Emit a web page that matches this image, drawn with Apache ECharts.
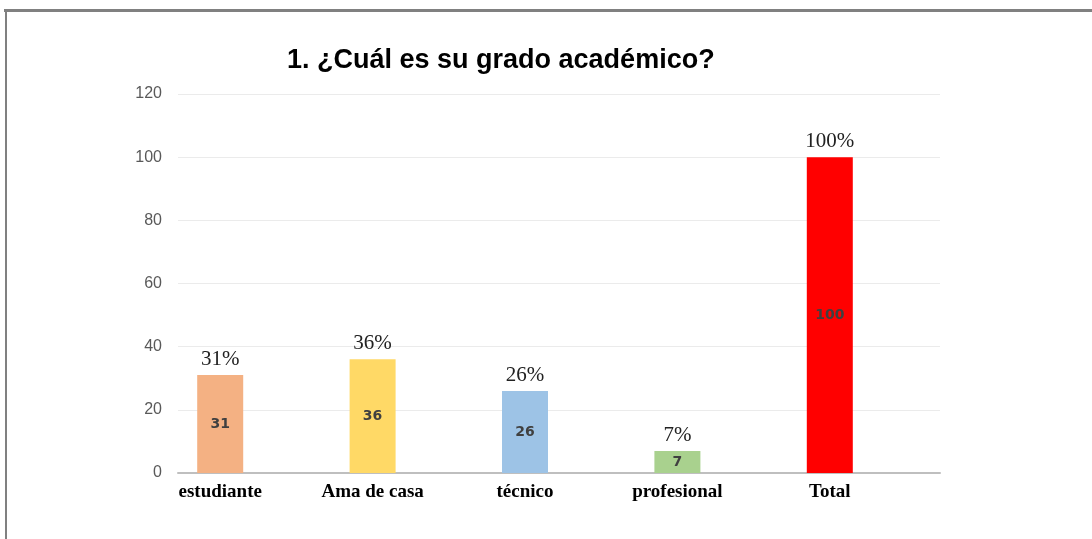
<!DOCTYPE html>
<html>
<head>
<meta charset="utf-8">
<script src="https://cdn.jsdelivr.net/npm/echarts@6/dist/echarts.min.js"></script>
<style>
  html, body { margin: 0; padding: 0; background: #fff; }
  #chart { width: 1092px; height: 539px; }
</style>
</head>
<body>
<div id="chart"></div>
<script>
// datos
const categories = ["estudiante", "Ama de casa", "técnico", "profesional", "Total"];
const values = [31, 36, 26, 7, 100];
const percentLabels = ["31%", "36%", "26%", "7%", "100%"];
const barColors = ["#F4B183", "#FFD966", "#9DC3E6", "#A9D18E", "#FF0000"];
const yTicks = { min: 0, max: 120, interval: 20 };

const chart = echarts.init(document.getElementById("chart"));

const option = {
  animation: false,
  backgroundColor: "#fff",
  title: {
    text: "1. ¿Cuál es su grado académico?",
    left: 282,
    top: 42,
    textStyle: {
      fontFamily: "Liberation Sans Narrow, Arial Narrow, Liberation Sans",
      fontWeight: "bold",
      fontSize: 27,
      color: "#000"
    }
  },
  graphic: [
    // marco gris (arriba e izquierda)
    { type: "rect", shape: { x: 4, y: 9, width: 1100, height: 3 }, style: { fill: "#808080" } },
    { type: "rect", shape: { x: 5, y: 9, width: 2, height: 540 }, style: { fill: "#808080" } }
  ],
  grid: [
    // área de trazado (líneas de cuadrícula y eje)
    { left: 178, right: 152, top: 94, bottom: 66 },
    // las barras quedan desplazadas a la izquierda en el original
    { left: 144, right: 186, top: 94, bottom: 66 }
  ],
  xAxis: [
    {
      type: "value",
      gridIndex: 0,
      min: 0,
      max: 1,
      axisLabel: { show: false },
      axisTick: { show: false },
      splitLine: { show: false },
      axisLine: { show: true, lineStyle: { color: "#BFBFBF", width: 2 } }
    },
    {
      type: "category",
      gridIndex: 1,
      data: categories,
      axisTick: { show: false },
      axisLine: { show: false },
      axisLabel: {
        margin: 10,
        fontFamily: "Liberation Serif, Times New Roman, serif",
        fontWeight: "bold",
        fontSize: 19,
        color: "#000"
      }
    }
  ],
  yAxis: [
    {
      type: "value",
      gridIndex: 0,
      min: yTicks.min,
      max: yTicks.max,
      interval: yTicks.interval,
      axisLine: { show: false },
      axisTick: { show: false },
      splitLine: { lineStyle: { color: "#EBEBEB" } },
      axisLabel: {
        margin: 16,
        fontFamily: "Liberation Sans, Arial, sans-serif",
        fontSize: 16,
        color: "#595959"
      }
    },
    {
      type: "value",
      gridIndex: 1,
      min: yTicks.min,
      max: yTicks.max,
      interval: yTicks.interval,
      show: false,
      splitLine: { show: false }
    }
  ],
  series: [
    {
      type: "bar",
      xAxisIndex: 1,
      yAxisIndex: 1,
      barWidth: 46,
      data: values.map((v, i) => ({ value: v, itemStyle: { color: barColors[i] } })),
      label: {
        show: true,
        position: "inside",
        fontFamily: "DejaVu Sans, sans-serif",
        fontWeight: "bold",
        fontSize: 14,
        color: "#404040"
      }
    },
    {
      // serie transparente para las etiquetas de porcentaje
      type: "bar",
      xAxisIndex: 1,
      yAxisIndex: 1,
      barWidth: 46,
      barGap: "-100%",
      data: values,
      itemStyle: { color: "rgba(0,0,0,0)" },
      label: {
        show: true,
        position: "top",
        distance: 5,
        formatter: p => percentLabels[p.dataIndex],
        fontFamily: "Liberation Serif, Times New Roman, serif",
        fontSize: 21,
        color: "#222"
      }
    }
  ]
};

chart.setOption(option);
</script>
</body>
</html>
